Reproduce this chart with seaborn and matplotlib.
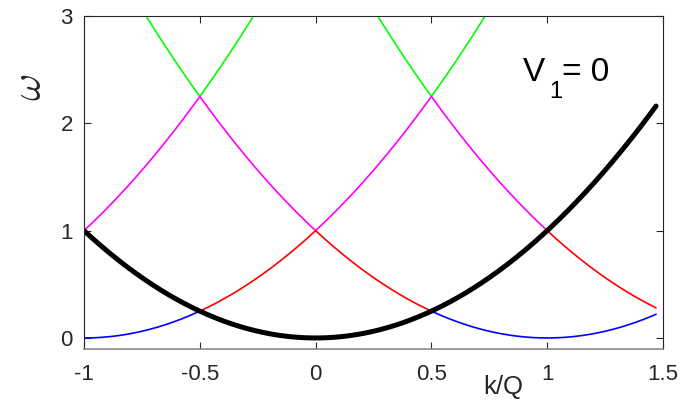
import numpy as np
import pandas as pd
import matplotlib
matplotlib.use("Agg")
import matplotlib.pyplot as plt
import seaborn as sns

# Empty-lattice (V1 = 0) dispersion folded by reciprocal lattice vectors
k_min, k_max = -1.0, 1.47
G_vectors = [-2, -1, 0, 1, 2]                 # in units of Q
band_colors = ["#0000ff", "#ff0000", "#ff00ff", "#00ff00"]
free_color = "#000000"
x_ticks = [-1, -0.5, 0, 0.5, 1, 1.5]
x_tick_labels = ["-1", "-0.5", "0", "0.5", "1", "1.5"]
y_ticks = [0, 1, 2, 3]
y_tick_labels = ["0", "1", "2", "3"]

sns.set_theme(style="white")
plt.rcParams["font.family"] = ["Liberation Sans", "DejaVu Sans"]

k = np.linspace(k_min, k_max, 800)
shifted = np.array([(k - g) ** 2 for g in G_vectors])
bands = np.sort(shifted, axis=0)

rows = []
for i, color in enumerate(band_colors):
    rows.append(pd.DataFrame({"k": k, "w": bands[i], "band": f"b{i}"}))
df = pd.concat(rows, ignore_index=True)
free = pd.DataFrame({"k": k, "w": k ** 2})

fig = plt.figure(figsize=(6.92, 4.04), dpi=100)
ax = fig.add_axes([84 / 692, 1 - 348.7 / 404, (663 - 84) / 692, (348.7 - 16) / 404])

for i in reversed(range(len(band_colors))):
    sub = df[df["band"] == f"b{i}"]
    sns.lineplot(data=sub, x="k", y="w", ax=ax, color=band_colors[i],
                 linewidth=1.2, sort=False, legend=False)
sns.lineplot(data=free, x="k", y="w", ax=ax, color=free_color,
             linewidth=3.6, sort=False, legend=False)

ax.set_xlim(-1, 1.5)
ax.set_ylim(-0.1, 3)
ax.set_xticks(x_ticks)
ax.set_xticklabels(x_tick_labels)
ax.set_yticks(y_ticks)
ax.set_yticklabels(y_tick_labels)
ax.set_xlabel("")
ax.set_ylabel("")
ax.tick_params(direction="in", length=5, width=0.8, colors="#262626",
               labelsize=16, top=True, right=True, bottom=True, left=True)
ax.tick_params(axis="x", pad=11)
ax.tick_params(axis="y", pad=8)
for side, sp in ax.spines.items():
    sp.set_visible(True)
    sp.set_color("#262626")
    sp.set_linewidth(0.8)
ax.spines["bottom"].set_color("#8c8c8c")
ax.spines["bottom"].set_linewidth(1.2)

H = 404.0
fig.text(503 / 692, 1 - 387 / H, "k/Q", fontsize=18.5, color="#262626",
         ha="center", va="center")
fig.text(30 / 692, 1 - 87 / H, r"$\omega$", fontsize=30, color="#262626",
         ha="center", va="center", rotation=90, math_fontfamily="cm")

# V_1 = 0 annotation, subscript drawn as its own lowered text
fig.text(523 / 692, 1 - 81 / H, "V", fontsize=24, color="black",
         ha="left", va="baseline")
fig.text(549 / 692, 1 - 98 / H, "1", fontsize=17, color="black",
         ha="left", va="baseline")
fig.text(562 / 692, 1 - 81 / H, "= 0", fontsize=24, color="black",
         ha="left", va="baseline")

fig.savefig("out.png", dpi=100)
